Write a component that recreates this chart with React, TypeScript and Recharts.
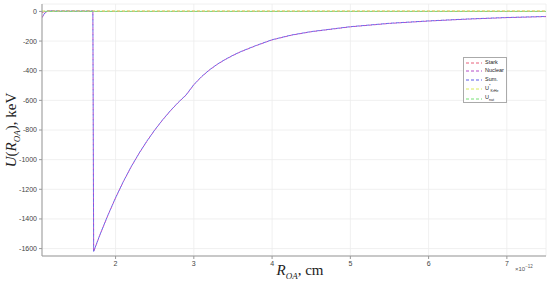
import React from "react";
import {
  LineChart,
  Line,
  XAxis,
  YAxis,
  CartesianGrid,
} from "recharts";

// R_OA in units of 1e-12 cm
const rOA = [
  1.06, 1.08, 1.1, 1.13, 1.16, 1.2, 1.3, 1.4, 1.5, 1.6, 1.71, 1.72, 1.8, 1.9,
  2.0, 2.1, 2.2, 2.3, 2.4, 2.5, 2.6, 2.7, 2.8, 2.9, 3.0, 3.1, 3.2, 3.3, 3.4,
  3.5, 3.6, 3.8, 4.0, 4.25, 4.5, 5.0, 5.5, 6.0, 6.5, 7.0, 7.5,
];

const stark = [
  -8, -4, 0, 2, 3, 3, 3, 3, 3, 3, 3, 1, 1, 1, 1, 1, 1, 1, 1, 1, 1, 1, 1, 1, 1,
  1, 1, 1, 1, 1, 1, 1, 1, 1, 1, 1, 1, 1, 1, 1, 1,
];

const nuclear = [
  -42, -25, -10, 2, 3, 2, 1, 1, 1, 1, 1, -1620, -1508, -1378, -1258, -1148,
  -1048, -958, -876, -801, -733, -671, -615, -565, -495, -440, -395, -357,
  -325, -297, -272, -230, -192, -160, -137, -104, -81, -65, -52, -42, -35,
];

const sum = [
  -40, -23, -8, 4, 5, 4, 3, 3, 3, 3, 3, -1619, -1507, -1377, -1257, -1147,
  -1047, -957, -875, -800, -732, -670, -614, -564, -494, -439, -394, -356,
  -324, -296, -271, -229, -191, -159, -136, -103, -80, -64, -51, -41, -34,
];

const uKrHe = [
  3, 3, 3, 3, 3, 3, 3, 3, 3, 3, 3, 3, 3, 3, 3, 3, 3, 3, 3, 3, 3, 3, 3, 3, 3,
  3, 3, 3, 3, 3, 3, 3, 3, 3, 3, 3, 3, 3, 3, 3, 3,
];

const uNat = [
  0, 0, 0, 0, 0, 0, 0, 0, 0, 0, 0, 0, 0, 0, 0, 0, 0, 0, 0, 0, 0, 0, 0, 0, 0,
  0, 0, 0, 0, 0, 0, 0, 0, 0, 0, 0, 0, 0, 0, 0, 0,
];

const xTicks = [2, 3, 4, 5, 6, 7];
const yTicks = [0, -200, -400, -600, -800, -1000, -1200, -1400, -1600];

const data = rOA.map((r, i) => ({
  r,
  stark: stark[i],
  nuclear: nuclear[i],
  sum: sum[i],
  uKrHe: uKrHe[i],
  uNat: uNat[i],
}));

const C = {
  stark: "#e8607a",
  nuclear: "#b54cc8",
  sum: "#5c5ce8",
  uKrHe: "#d8ea5a",
  uNat: "#74e074",
};

const tick = { fill: "#444", fontSize: 7, fontFamily: "Arial, Liberation Sans, sans-serif" };
const serif = "'Liberation Serif', 'DejaVu Serif', serif";

function LegendRow({ color, h, children }: { color: string; h: number; children: React.ReactNode }) {
  return (
    <div style={{ display: "flex", alignItems: "center", height: h }}>
      <svg width={16} height={4} style={{ marginRight: 3, flexShrink: 0 }}>
        <line x1={0} y1={2} x2={16} y2={2} stroke={color} strokeWidth={1} strokeDasharray="3 2" />
      </svg>
      <span style={{ lineHeight: 1 }}>{children}</span>
    </div>
  );
}

export default function App() {
  return (
    <div style={{ position: "absolute", left: 0, top: 0, width: 550, height: 284, background: "#fff" }}>
      <LineChart
        width={550}
        height={284}
        data={data}
        margin={{ top: 4, right: 4, bottom: 0, left: 0 }}
      >
        <CartesianGrid stroke="#ececec" strokeWidth={0.8} />
        <XAxis
          dataKey="r"
          type="number"
          domain={[1.06, 7.5]}
          ticks={xTicks}
          allowDataOverflow
          tick={tick}
          tickSize={3}
          height={28}
          stroke="#999"
        />
        <XAxis xAxisId="top" orientation="top" dataKey="r" type="number" domain={[1.06, 7.5]} ticks={xTicks} tick={false} height={0} stroke="#999" />
        <YAxis
          type="number"
          domain={[-1650, 50]}
          ticks={yTicks}
          allowDataOverflow
          tick={tick}
          tickSize={3}
          width={42}
          stroke="#999"
        />
        <YAxis yAxisId="right" orientation="right" type="number" domain={[-1650, 50]} ticks={yTicks} tick={false} width={0} stroke="#999" />
        <Line dataKey="stark" stroke={C.stark} strokeWidth={1} strokeDasharray="3 2" dot={false} isAnimationActive={false} />
        <Line dataKey="nuclear" stroke={C.nuclear} strokeWidth={1} strokeDasharray="3 2" dot={false} isAnimationActive={false} />
        <Line dataKey="sum" stroke={C.sum} strokeWidth={0.9} strokeDasharray="3 2" strokeDashoffset={2.5} dot={false} isAnimationActive={false} />
        <Line dataKey="uKrHe" stroke={C.uKrHe} strokeWidth={1} strokeDasharray="3 2" dot={false} isAnimationActive={false} />
        <Line dataKey="uNat" stroke={C.uNat} strokeWidth={1} strokeDasharray="3 2" strokeDashoffset={2.5} dot={false} isAnimationActive={false} />
      </LineChart>

      <div
        style={{
          position: "absolute",
          left: 300,
          top: 262,
          transform: "translateX(-50%)",
          fontFamily: serif,
          fontSize: 15,
          color: "#222",
          whiteSpace: "nowrap",
        }}
      >
        <i>R</i>
        <sub style={{ fontSize: 9, fontStyle: "italic" }}>OA</sub>, cm
      </div>
      <div
        style={{
          position: "absolute",
          left: 12,
          top: 130,
          transform: "translate(-50%, -50%) rotate(-90deg)",
          fontFamily: serif,
          fontSize: 15,
          color: "#222",
          whiteSpace: "nowrap",
        }}
      >
        <i>U</i>(<i>R</i>
        <sub style={{ fontSize: 9, fontStyle: "italic" }}>OA</sub>), keV
      </div>
      <div
        style={{
          position: "absolute",
          left: 515,
          top: 264,
          fontFamily: "Arial, sans-serif",
          fontSize: 6,
          color: "#555",
          whiteSpace: "nowrap",
        }}
      >
        ×10<sup style={{ fontSize: 4.5 }}>−12</sup>
      </div>
      <div
        style={{
          position: "absolute",
          left: 463,
          top: 57,
          width: 44,
          height: 46,
          border: "1px solid #aaa",
          background: "#fff",
          fontFamily: "Arial, sans-serif",
          fontSize: 5.5,
          color: "#222",
          padding: "1px 0 0 2px",
          boxSizing: "border-box",
        }}
      >
        <LegendRow color={C.stark} h={8}>Stark</LegendRow>
        <LegendRow color={C.nuclear} h={8}>Nuclear</LegendRow>
        <LegendRow color={C.sum} h={9}>Sum.</LegendRow>
        <LegendRow color={C.uKrHe} h={10}>
          U<sup style={{ fontSize: 4, verticalAlign: "3px" }}>*</sup>
          <sub style={{ fontSize: 3.5, verticalAlign: "-2px" }}>KrHe</sub>
        </LegendRow>
        <LegendRow color={C.uNat} h={9}>
          U<sub style={{ fontSize: 3.5, verticalAlign: "-2px" }}>nat</sub>
        </LegendRow>
      </div>
    </div>
  );
}
